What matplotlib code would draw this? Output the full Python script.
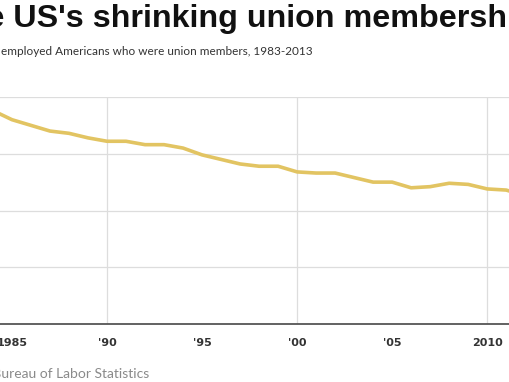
import matplotlib
matplotlib.use("Agg")
import matplotlib.pyplot as plt
from matplotlib.font_manager import FontProperties

# union membership rate, % of employed (BLS)
years = [1983, 1984, 1985, 1986, 1987, 1988, 1989, 1990, 1991, 1992,
         1993, 1994, 1995, 1996, 1997, 1998, 1999, 2000, 2001, 2002,
         2003, 2004, 2005, 2006, 2007, 2008, 2009, 2010, 2011, 2012, 2013]
rate = [20.1, 18.8, 18.0, 17.5, 17.0, 16.8, 16.4, 16.1, 16.1, 15.8,
        15.8, 15.5, 14.9, 14.5, 14.1, 13.9, 13.9, 13.4, 13.3, 13.3,
        12.9, 12.5, 12.5, 12.0, 12.1, 12.4, 12.3, 11.9, 11.8, 11.3, 11.3]

xticks = [1985, 1990, 1995, 2000, 2005, 2010]
xlabels = ["1985", "'90", "'95", "'00", "'05", "2010"]
xgrid = [1990, 2000, 2010]
yticks = [0, 5, 10, 15, 20]

W, H = 510, 382
fig = plt.figure(figsize=(W / 100, H / 100), dpi=100)

# plot area is cropped at both sides like the reference
ax = fig.add_axes([0, (H - 324) / H, 1, (324 - 97) / H])
ax.plot(years, rate, color="#E2C462", lw=2.6, solid_capstyle="round", zorder=3)
ax.set_xlim(1984.37, 2011.2)
ax.set_ylim(0, 20)
ax.set_xticks(xticks)
ax.set_xticklabels(xlabels, fontsize=8, fontweight="bold", color="#333333")
ax.set_yticks(yticks)
ax.set_yticklabels([])
ax.tick_params(length=0, pad=10)
ax.grid(True, axis="y", color="#dddddd", lw=0.9)
for x in xgrid:
    ax.axvline(x, color="#dddddd", lw=0.9, zorder=1)
ax.set_axisbelow(True)
for s in ["top", "left", "right"]:
    ax.spines[s].set_visible(False)
ax.spines["bottom"].set_color("#555555")
ax.spines["bottom"].set_linewidth(1.3)

renderer = fig.canvas.get_renderer()


def place(text, prefix_end, x_px, y_px, **kw):
    # put text so that the character after prefix lands at x_px
    fp = FontProperties(family=kw.get("family"), size=kw.get("fontsize"),
                        weight=kw.get("fontweight", "normal"))
    w1, _, _ = renderer.get_text_width_height_descent(text[:prefix_end + 1], fp, ismath=False)
    w2, _, _ = renderer.get_text_width_height_descent(text[prefix_end], fp, ismath=False)
    x0 = x_px - (w1 - w2)
    fig.text(x0 / W, 1 - y_px / H, text, ha="left", va="baseline", **kw)


title = "The US's shrinking union membership"
place(title, 4, 13, 27, family="Liberation Sans", fontsize=23.2,
      fontweight="bold", color="#111111")

fig.text(0.002, 1 - 55 / H, "employed Americans who were union members, 1983-2013",
         ha="left", va="baseline", fontsize=8.5, color="#333333", family="Lato")

src = "Source: Bureau of Labor Statistics"
place(src, 9, 1, 378, family="Lato", fontsize=10, color="#8a8a8a")

fig.savefig("out.png", dpi=100)
